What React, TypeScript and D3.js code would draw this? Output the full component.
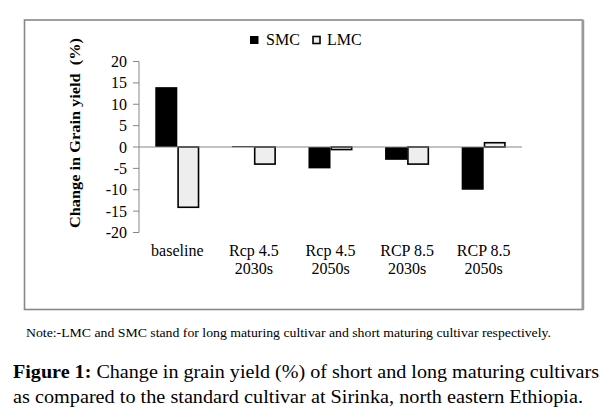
import React from "react";
import * as d3 from "d3";

const categories: string[][] = [
  ["baseline"],
  ["Rcp 4.5", "2030s"],
  ["Rcp 4.5", "2050s"],
  ["RCP 8.5", "2030s"],
  ["RCP 8.5", "2050s"],
];
const seriesNames = ["SMC", "LMC"];
const smcValues = [14, 0.2, -5, -3, -10];
const lmcValues = [-14.1, -4, -0.6, -4, 1];
const yTicks = [20, 15, 10, 5, 0, -5, -10, -15, -20];
const yTitle = "Change in Grain yield  (%)";
const noteText = "Note:-LMC and SMC stand for long maturing cultivar and short maturing cultivar respectively.";
const captionBold = "Figure 1:";
const captionLine1 = " Change in grain yield (%) of short and long maturing cultivars";
const captionLine2 = "as compared to the standard cultivar at Sirinka, north eastern Ethiopia.";

export default function App() {
  const W = 616;
  const H = 418;
  const axisX = 139;
  const plotRight = 522;
  const x = d3
    .scaleBand<number>()
    .domain(categories.map((_, i) => i))
    .range([axisX, plotRight])
    .paddingInner(0.425)
    .paddingOuter(0.2125);
  const y = d3.scaleLinear().domain([-20, 20]).range([232.5, 61.5]);
  const bw = x.bandwidth() / 2;
  const serif = "'Liberation Serif', 'Times New Roman', serif";
  const axisColor = "#868686";

  const bars: { v: number; s: number; i: number }[] = [];
  smcValues.forEach((v, i) => bars.push({ v, s: 0, i }));
  lmcValues.forEach((v, i) => bars.push({ v, s: 1, i }));

  return (
    <svg
      width={W}
      height={H}
      style={{ position: "absolute", left: 0, top: 0, background: "#fff" }}
    >
      <rect x={0} y={0} width={W} height={H} fill="#fff" />
      {/* frame */}
      <rect x={24.5} y={20} width={558} height={289.5} fill="none" stroke="#888" strokeWidth={1.6} />
      <line x1={583} y1={20} x2={583} y2={310} stroke="#999" strokeWidth={2.5} />

      {/* legend */}
      <rect x={250} y={36} width={8.5} height={8} fill="#000" />
      <text x={266} y={44.5} fontFamily={serif} fontSize={16} fill="#000">{seriesNames[0]}</text>
      <rect x={313} y={36.5} width={7} height={7} fill="#eee" stroke="#000" strokeWidth={1.6} />
      <text x={327} y={44.5} fontFamily={serif} fontSize={16} fill="#000">{seriesNames[1]}</text>

      {/* y axis title */}
      <text
        transform={`translate(80,133) rotate(-90)`}
        textAnchor="middle"
        fontFamily={serif}
        fontWeight="bold"
        fontSize={15}
        textLength={190}
        lengthAdjust="spacingAndGlyphs"
        fill="#000"
        style={{ whiteSpace: "pre" }}
      >
        {yTitle}
      </text>

      {/* y axis */}
      <line x1={axisX} y1={y(20)} x2={axisX} y2={y(-20)} stroke={axisColor} strokeWidth={1} />
      {yTicks.map((t) => (
        <g key={t}>
          <line x1={axisX - 6} x2={axisX} y1={y(t)} y2={y(t)} stroke={axisColor} strokeWidth={1} />
          <text
            x={127}
            y={y(t)}
            dy="0.35em"
            textAnchor="end"
            fontFamily={serif}
            fontSize={16}
            fill="#000"
          >
            {t}
          </text>
        </g>
      ))}

      {/* bars */}
      {bars.map((b, k) => {
        const x0 = (x(b.i) as number) + b.s * bw;
        const y0 = Math.min(y(0), y(b.v));
        const h = Math.abs(y(b.v) - y(0));
        return b.s === 0 ? (
          <rect key={k} x={x0} y={y0} width={bw} height={Math.max(h, 1)} fill="#000" />
        ) : (
          <rect
            key={k}
            x={x0 + 0.8}
            y={y0}
            width={bw - 1.6}
            height={Math.max(h, 1)}
            fill="#eeeeee"
            stroke="#000"
            strokeWidth={1.6}
          />
        );
      })}

      {/* zero line */}
      <line x1={axisX} x2={plotRight} y1={y(0)} y2={y(0)} stroke={axisColor} strokeWidth={1} />

      {/* x labels */}
      {categories.map((c, i) => (
        <text
          key={i}
          textAnchor="middle"
          fontFamily={serif}
          fontSize={16}
          fill="#000"
        >
          {c.map((line, j) => (
            <tspan key={j} x={(x(i) as number) + x.bandwidth() / 2} y={256 + j * 17.5}>
              {line}
            </tspan>
          ))}
        </text>
      ))}

      {/* note */}
      <text
        x={26}
        y={337}
        fontFamily={serif}
        fontSize={13}
        textLength={525}
        lengthAdjust="spacingAndGlyphs"
        fill="#000"
      >
        {noteText}
      </text>

      {/* caption */}
      <text
        x={13}
        y={378}
        fontFamily={serif}
        fontSize={18.5}
        textLength={586}
        lengthAdjust="spacingAndGlyphs"
        fill="#000"
        style={{ whiteSpace: "pre" }}
      >
        <tspan fontWeight="bold">{captionBold}</tspan>
        <tspan>{captionLine1}</tspan>
      </text>
      <text
        x={13}
        y={403}
        fontFamily={serif}
        fontSize={18.5}
        textLength={570}
        lengthAdjust="spacingAndGlyphs"
        fill="#000"
      >
        {captionLine2}
      </text>
    </svg>
  );
}
